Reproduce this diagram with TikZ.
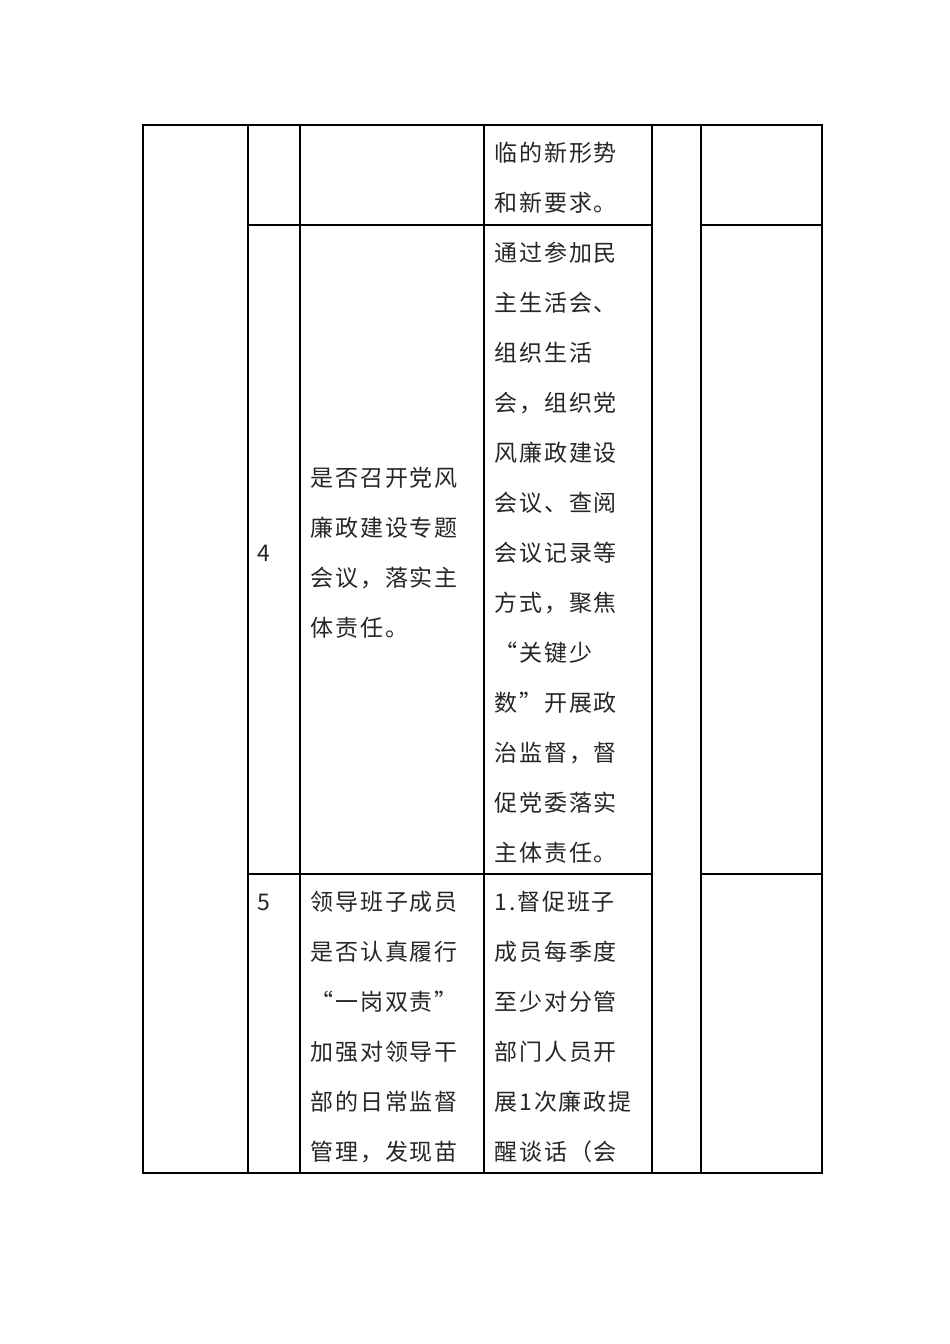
\documentclass[tikz,border=0pt]{standalone}
\usepackage{fontspec}
\newfontfamily\cjk[LetterSpace=8]{Noto Sans CJK SC}
\begin{document}
\begin{tikzpicture}[x=1pt,y=-1pt,line width=1.2pt,
  tx/.style={anchor=west,inner sep=0pt,font=\cjk\fontsize{23}{23}\selectfont,text=black!85}]
\useasboundingbox (0,0) rectangle (950,1344);
\draw (143,125) rectangle (822,1173);
\foreach \x in {248,300,484,652,701}{\draw (\x,125) -- (\x,1173);}
\draw (248,225) -- (652,225); \draw (701,225) -- (822,225);
\draw (248,874) -- (652,874); \draw (701,874) -- (822,874);
\node[tx] (a1) at (494,153) {临的新形势};
\node[tx] (a2) at (494,203) {和新要求。};
\node[tx] (n4) at (257,553) {4};
\node[tx] (b1) at (310,478) {是否召开党风};
\node[tx] (b2) at (310,528) {廉政建设专题};
\node[tx] (b3) at (310,578) {会议，落实主};
\node[tx] (b4) at (310,628) {体责任。};
\foreach \t [count=\i] in {通过参加民,主生活会、,组织生活,会，组织党,风廉政建设,会议、查阅,会议记录等,方式，聚焦,“关键少,数”开展政,治监督，督,促党委落实,主体责任。}
  {\node[tx] (c\i) at (494,203+50*\i) {\t};}
\node[tx] (n5) at (257,902) {5};
\foreach \t [count=\i] in {领导班子成员,是否认真履行,“一岗双责”,加强对领导干,部的日常监督,管理，发现苗}
  {\node[tx] (d\i) at (310,852+50*\i) {\t};}
\foreach \t [count=\i] in {1.督促班子,成员每季度,至少对分管,部门人员开,展1次廉政提,醒谈话（会}
  {\node[tx] (e\i) at (494,852+50*\i) {\t};}
\end{tikzpicture}
\end{document}
